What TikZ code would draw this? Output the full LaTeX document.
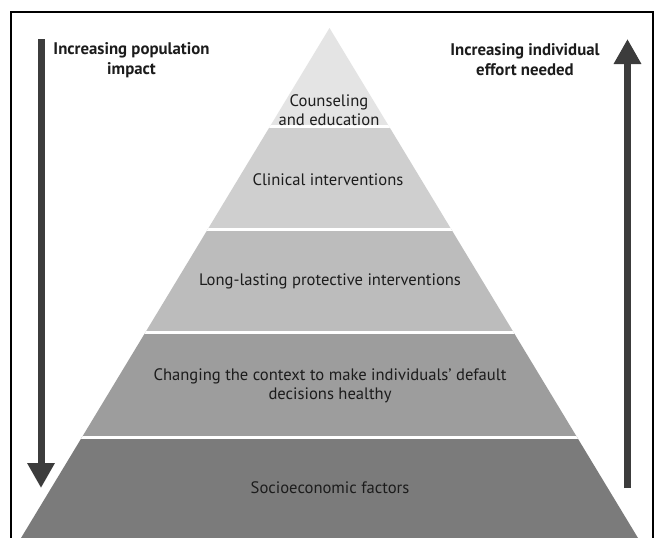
\documentclass[tikz,border=0pt]{standalone}
\usepackage{fontspec}
\setmainfont{PT Sans}
\usetikzlibrary{arrows.meta}

\definecolor{layerA}{HTML}{E4E4E4}
\definecolor{layerB}{HTML}{CFCFCF}
\definecolor{layerC}{HTML}{BCBCBC}
\definecolor{layerD}{HTML}{9D9D9D}
\definecolor{layerE}{HTML}{7B7B7B}
\definecolor{arrowgray}{HTML}{3C3C3C}
\definecolor{inkgray}{HTML}{1C1C1C}

\tikzset{
  layertext/.style={text=inkgray, align=center, font=\fontsize{16.6}{19.5}\selectfont, inner sep=0pt},
  sidetext/.style={text=inkgray, align=center, font=\bfseries\fontsize{16.8}{20}\selectfont, inner sep=0pt},
  bigarrow/.style={arrowgray, line width=7pt, -{Triangle[width=26pt,length=25pt]}},
  gap/.style={white, line width=3pt}
}

\begin{document}
\begin{tikzpicture}[x=1pt, y=-1pt]
\useasboundingbox (0,0) rectangle (656,538);
\fill[white] (0,0) rectangle (656,538);
\draw[line width=1.2pt] (11,540) -- (11,12) -- (653,12) -- (653,540);

% pyramid
\begin{scope}
\clip (21,538) -- (329.5,28) -- (638,538) -- cycle;
\fill[layerA] (0,0) rectangle (656,127);
\fill[layerB] (0,127) rectangle (656,229);
\fill[layerC] (0,229) rectangle (656,332);
\fill[layerD] (0,332) rectangle (656,437);
\fill[layerE] (0,437) rectangle (656,538);
\draw[gap] (0,126.5) -- (656,126.5);
\draw[gap] (0,229) -- (656,229);
\draw[gap] (0,332.5) -- (656,332.5);
\draw[gap] (0,437.5) -- (656,437.5);
\end{scope}

\node[layertext] (counsel) at (329,110) {Counseling\\and education};
\node[layertext] (clinical) at (328,180) {Clinical interventions};
\node[layertext] (longlast) at (330,281) {Long-lasting protective interventions};
\node[layertext] (context) at (330,386) {Changing the context to make individuals' default\\decisions healthy};
\node[layertext] (socio) at (330,488) {Socioeconomic factors};

% side arrows
\coordinate (popTop) at (41,39);
\coordinate (popTip) at (41,488);
\coordinate (effBot) at (627.5,488);
\coordinate (effTip) at (627.5,39);
\draw[bigarrow] (popTop) -- (popTip);
\draw[bigarrow] (effBot) -- (effTip);

\node[sidetext] (popimpact) at (131.5,60) {Increasing population\\impact};
\node[sidetext] (effort) at (525,60) {Increasing individual\\effort needed};
\end{tikzpicture}
\end{document}
